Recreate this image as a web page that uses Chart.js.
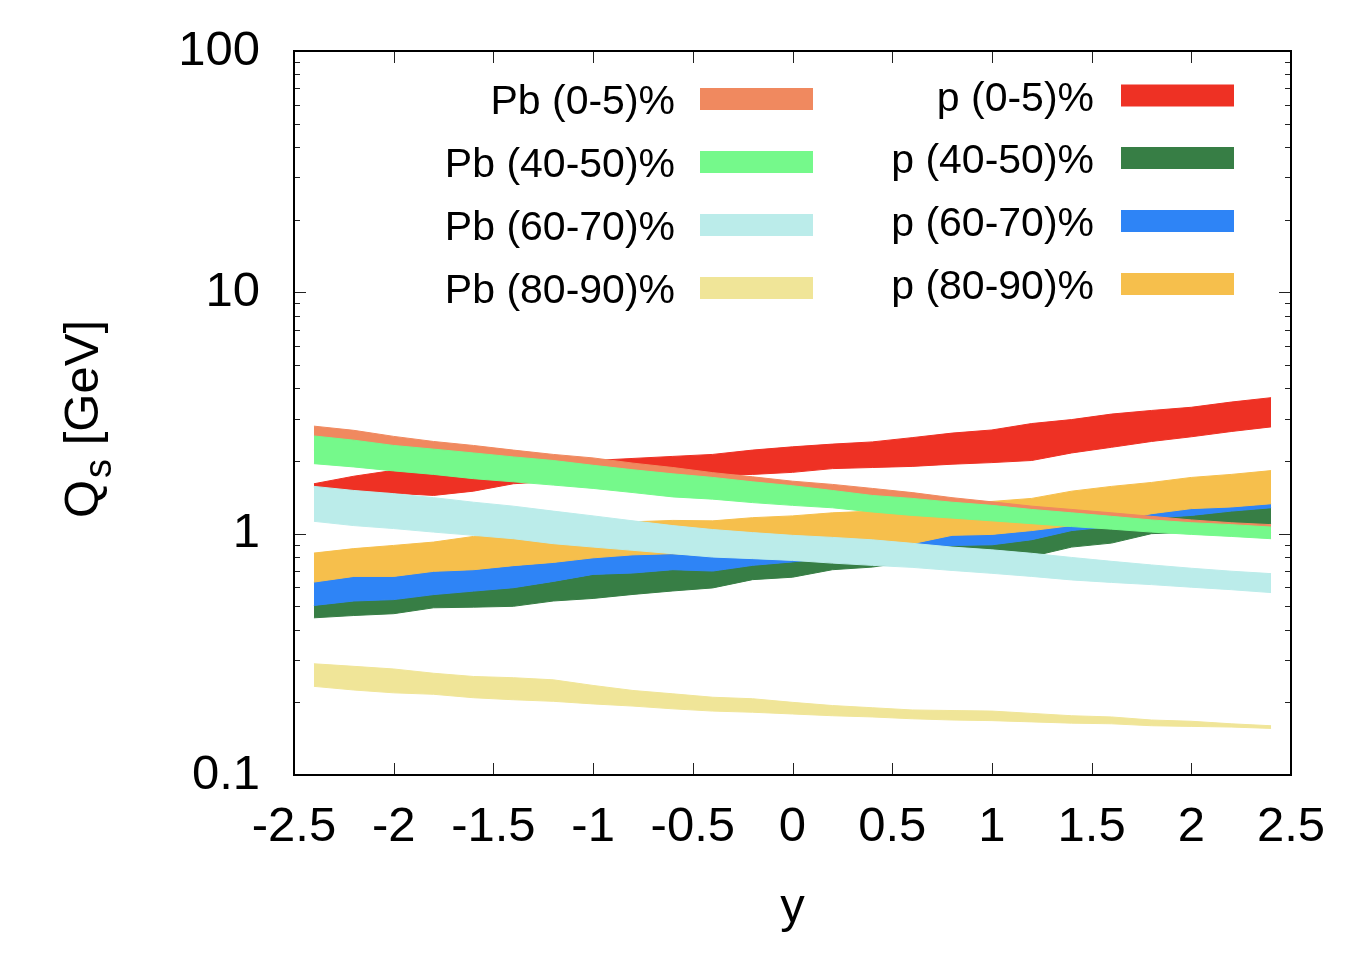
<!DOCTYPE html>
<html>
<head>
<meta charset="utf-8">
<title>Qs vs rapidity</title>
<script src="https://cdn.jsdelivr.net/npm/chart.js@4.4.1/dist/chart.umd.min.js"></script>
<style>
  html, body { margin: 0; padding: 0; background: #fff; }
  #wrap { width: 1360px; height: 966px; }
</style>
</head>
<body>
<div id="wrap"><canvas id="qs-chart" width="1360" height="966"></canvas></div>
<script>
// rapidity grid of the bands
const rapidity = [-2.4, -2.2, -2.0, -1.8, -1.6, -1.4, -1.2, -1.0, -0.8, -0.6, -0.4, -0.2, 0.0,
                  0.2, 0.4, 0.6, 0.8, 1.0, 1.2, 1.4, 1.6, 1.8, 2.0, 2.2, 2.4];

// Pb bands (Qs in GeV, upper / lower edge)
const pb05Upper   = [2.79, 2.68, 2.53, 2.41, 2.32, 2.22, 2.13, 2.06, 1.96, 1.88, 1.79, 1.72, 1.65, 1.60, 1.54, 1.48, 1.41, 1.355, 1.30, 1.26, 1.22, 1.18, 1.14, 1.11, 1.09];
const pb05Lower   = [2.22, 2.15, 2.06, 1.98, 1.91, 1.85, 1.79, 1.72, 1.65, 1.59, 1.54, 1.48, 1.44, 1.39, 1.33, 1.29, 1.25, 1.22, 1.18, 1.14, 1.11, 1.08, 1.05, 1.03, 1.01];
const pb4050Upper = [2.54, 2.44, 2.32, 2.24, 2.16, 2.08, 2.01, 1.92, 1.84, 1.77, 1.71, 1.64, 1.58, 1.51, 1.44, 1.40, 1.35, 1.31, 1.26, 1.22, 1.18, 1.14, 1.11, 1.09, 1.065];
const pb4050Lower = [1.95, 1.89, 1.82, 1.76, 1.69, 1.64, 1.59, 1.54, 1.48, 1.42, 1.39, 1.345, 1.31, 1.28, 1.23, 1.19, 1.16, 1.13, 1.10, 1.07, 1.044, 1.015, 0.993, 0.974, 0.953];
const pb6070Upper = [1.57, 1.51, 1.465, 1.41, 1.35, 1.30, 1.24, 1.185, 1.13, 1.08, 1.04, 1.01, 0.984, 0.965, 0.943, 0.912, 0.880, 0.857, 0.829, 0.797, 0.768, 0.742, 0.719, 0.699, 0.683];
const pb6070Lower = [1.125, 1.08, 1.05, 1.015, 0.984, 0.953, 0.909, 0.880, 0.853, 0.826, 0.800, 0.788, 0.775, 0.755, 0.739, 0.725, 0.704, 0.685, 0.665, 0.643, 0.628, 0.615, 0.600, 0.586, 0.570];
const pb8090Upper = [0.289, 0.282, 0.275, 0.264, 0.256, 0.253, 0.248, 0.235, 0.224, 0.217, 0.210, 0.207, 0.200, 0.194, 0.190, 0.186, 0.185, 0.184, 0.180, 0.176, 0.174, 0.169, 0.167, 0.163, 0.160];
const pb8090Lower = [0.233, 0.225, 0.219, 0.216, 0.209, 0.205, 0.202, 0.197, 0.193, 0.188, 0.184, 0.182, 0.179, 0.176, 0.174, 0.171, 0.169, 0.168, 0.166, 0.164, 0.163, 0.160, 0.159, 0.158, 0.156];

// p bands
const p05Upper   = [1.61, 1.73, 1.83, 1.88, 1.92, 1.95, 1.98, 2.01, 2.05, 2.09, 2.13, 2.22, 2.29, 2.35, 2.40, 2.50, 2.61, 2.69, 2.86, 2.97, 3.13, 3.24, 3.34, 3.51, 3.66];
const p05Lower   = [1.56, 1.51, 1.47, 1.44, 1.50, 1.61, 1.65, 1.68, 1.71, 1.73, 1.745, 1.76, 1.795, 1.86, 1.88, 1.90, 1.94, 1.97, 2.01, 2.16, 2.28, 2.41, 2.52, 2.65, 2.77];
const p4050Upper = [0.504, 0.526, 0.533, 0.559, 0.578, 0.597, 0.634, 0.678, 0.687, 0.709, 0.700, 0.739, 0.764, 0.797, 0.845, 0.894, 0.894, 0.899, 0.944, 1.03, 1.07, 1.16, 1.19, 1.24, 1.28];
const p4050Lower = [0.448, 0.458, 0.466, 0.493, 0.496, 0.500, 0.526, 0.539, 0.560, 0.579, 0.596, 0.645, 0.660, 0.709, 0.727, 0.768, 0.805, 0.813, 0.805, 0.880, 0.914, 1.00, 1.015, 1.05, 1.10];
const p6070Upper = [0.630, 0.665, 0.665, 0.698, 0.709, 0.737, 0.760, 0.794, 0.817, 0.826, 0.809, 0.794, 0.805, 0.845, 0.877, 0.909, 0.984, 0.993, 1.03, 1.08, 1.125, 1.21, 1.27, 1.29, 1.33];
const p6070Lower = [0.504, 0.526, 0.533, 0.559, 0.578, 0.597, 0.634, 0.678, 0.687, 0.709, 0.700, 0.739, 0.764, 0.797, 0.845, 0.894, 0.894, 0.899, 0.944, 1.03, 1.07, 1.16, 1.19, 1.24, 1.28];
const p8090Upper = [0.831, 0.867, 0.894, 0.923, 0.974, 1.01, 1.05, 1.09, 1.12, 1.135, 1.13, 1.165, 1.185, 1.22, 1.24, 1.27, 1.33, 1.36, 1.40, 1.50, 1.57, 1.63, 1.71, 1.76, 1.825];
const p8090Lower = [0.630, 0.665, 0.665, 0.698, 0.709, 0.737, 0.760, 0.794, 0.817, 0.826, 0.809, 0.794, 0.805, 0.845, 0.877, 0.909, 0.984, 0.993, 1.03, 1.08, 1.125, 1.21, 1.27, 1.29, 1.33];

// axes
const xTickValues = [-2.5, -2, -1.5, -1, -0.5, 0, 0.5, 1, 1.5, 2, 2.5];
const yTickValues = [0.1, 1, 10, 100];
const yMinorTicks = [0.2, 0.3, 0.4, 0.5, 0.6, 0.7, 0.8, 0.9, 2, 3, 4, 5, 6, 7, 8, 9, 20, 30, 40, 50, 60, 70, 80, 90];

const FONT = '"Liberation Sans", Arial, Helvetica, sans-serif';

// legend order: two columns
const pbBands = [
    { label: 'Pb (0-5)%',   color: '#f0895f', upper: pb05Upper,   lower: pb05Lower },
    { label: 'Pb (40-50)%', color: '#75f98b', upper: pb4050Upper, lower: pb4050Lower },
    { label: 'Pb (60-70)%', color: '#bbecea', upper: pb6070Upper, lower: pb6070Lower },
    { label: 'Pb (80-90)%', color: '#f0e598', upper: pb8090Upper, lower: pb8090Lower }
];
const pBands = [
    { label: 'p (0-5)%',   color: '#ee3124', upper: p05Upper,   lower: p05Lower },
    { label: 'p (40-50)%', color: '#377e45', upper: p4050Upper, lower: p4050Lower },
    { label: 'p (60-70)%', color: '#2e84f6', upper: p6070Upper, lower: p6070Lower },
    { label: 'p (80-90)%', color: '#f6bf4c', upper: p8090Upper, lower: p8090Lower }
];

// chart.js paints dataset 0 last, so the top layer goes first
const layering = [...pbBands].reverse().concat([...pBands].reverse());
const datasets = [];
layering.forEach(band => {
    const edge = (vals, fill) => ({
        label: band.label,
        data: rapidity.map((x, i) => ({ x, y: vals[i] })),
        borderColor: band.color,
        backgroundColor: band.color,
        borderWidth: 1,
        pointRadius: 0,
        tension: 0,
        fill
    });
    datasets.push(edge(band.lower, false));
    datasets.push(edge(band.upper, '-1'));
});

const decorations = {
    id: 'decorations',
    afterDraw(chart) {
        const { ctx, chartArea: a, scales: { x, y } } = chart;
        ctx.save();

        // inward ticks on all four sides
        ctx.strokeStyle = '#222';
        ctx.lineWidth = 1;
        ctx.beginPath();
        xTickValues.forEach(v => {
            const px = Math.round(x.getPixelForValue(v)) + 0.5;
            ctx.moveTo(px, a.bottom); ctx.lineTo(px, a.bottom - 12);
            ctx.moveTo(px, a.top); ctx.lineTo(px, a.top + 12);
        });
        const yTick = (v, len) => {
            const py = Math.round(y.getPixelForValue(v)) + 0.5;
            ctx.moveTo(a.left, py); ctx.lineTo(a.left + len, py);
            ctx.moveTo(a.right, py); ctx.lineTo(a.right - len, py);
        };
        yTickValues.forEach(v => yTick(v, 12));
        yMinorTicks.forEach(v => yTick(v, 6));
        ctx.stroke();

        // frame
        ctx.strokeStyle = '#000';
        ctx.lineWidth = 2;
        ctx.strokeRect(a.left, a.top, a.right - a.left, a.bottom - a.top);

        // axis titles
        ctx.fillStyle = '#000';
        ctx.textBaseline = 'alphabetic';
        ctx.font = `49px ${FONT}`;
        ctx.textAlign = 'center';
        ctx.fillText('y', (a.left + a.right) / 2, 922);

        ctx.save();
        ctx.translate(98, 518);
        ctx.rotate(-Math.PI / 2);
        ctx.textAlign = 'left';
        ctx.font = `49px ${FONT}`;
        ctx.fillText('Q', 0, 0);
        const wQ = ctx.measureText('Q').width;
        ctx.font = `38px ${FONT}`;
        ctx.fillText('s', wQ + 2, 13);
        const wS = ctx.measureText('s').width;
        ctx.font = `49px ${FONT}`;
        ctx.fillText(' [GeV]', wQ + wS + 2, 0);
        ctx.restore();

        // key, two columns
        ctx.font = `41px ${FONT}`;
        ctx.textAlign = 'right';
        const drawKey = (bands, textRight, boxLeft, rows) => {
            bands.forEach((b, i) => {
                const cy = rows[i];
                ctx.fillStyle = '#000';
                ctx.fillText(b.label, textRight, cy + 15);
                ctx.fillStyle = b.color;
                ctx.fillRect(boxLeft, cy - 11, 113, 22);
            });
        };
        drawKey(pbBands, 675, 700, [99, 162, 225, 288]);
        drawKey(pBands, 1094, 1121, [95.5, 158, 221, 284]);

        ctx.restore();
    }
};

new Chart(document.getElementById('qs-chart'), {
    type: 'line',
    data: { datasets },
    options: {
        responsive: false,
        animation: false,
        layout: { padding: { top: 51, right: 69, bottom: 0, left: 0 } },
        plugins: {
            legend: { display: false },
            tooltip: { enabled: false },
            filler: { drawTime: 'beforeDatasetDraw' }
        },
        scales: {
            x: {
                type: 'linear',
                min: -2.5,
                max: 2.5,
                grid: { display: false, drawTicks: false },
                border: { display: false },
                afterBuildTicks: s => { s.ticks = xTickValues.map(v => ({ value: v })); },
                afterFit: s => { s.height = 191; s.paddingLeft = 0; s.paddingRight = 0; },
                ticks: {
                    autoSkip: false,
                    maxRotation: 0,
                    padding: 23,
                    color: '#000',
                    font: { family: FONT, size: 49 },
                    callback: v => String(v)
                }
            },
            y: {
                type: 'logarithmic',
                min: 0.1,
                max: 100,
                grid: { display: false, drawTicks: false },
                border: { display: false },
                afterBuildTicks: s => { s.ticks = yTickValues.map(v => ({ value: v })); },
                afterFit: s => { s.width = 294; s.paddingTop = 0; s.paddingBottom = 0; },
                ticks: {
                    autoSkip: false,
                    padding: 34,
                    color: '#000',
                    font: { family: FONT, size: 49 },
                    callback: v => String(v)
                }
            }
        }
    },
    plugins: [decorations]
});
</script>
</body>
</html>
